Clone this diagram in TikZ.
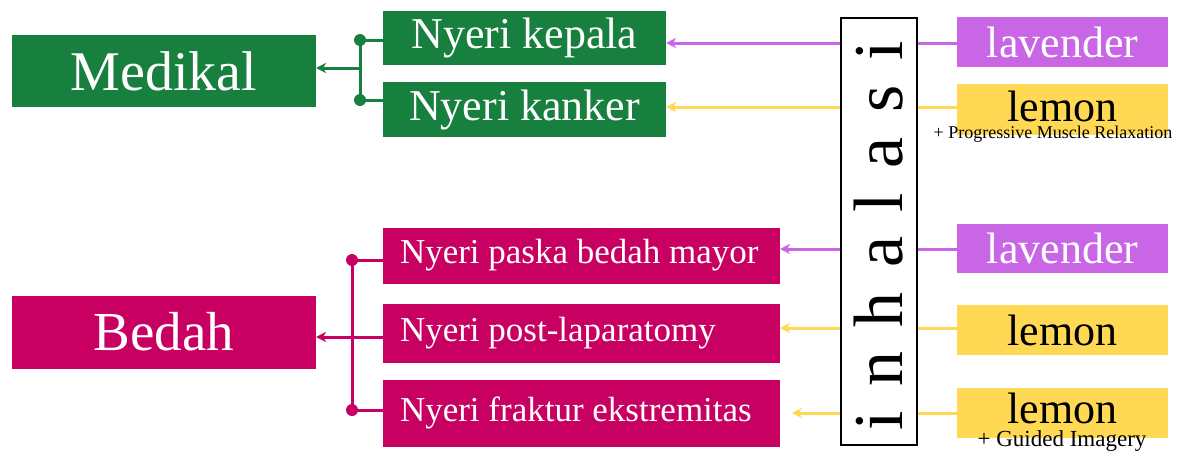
\documentclass[tikz,border=0pt]{standalone}
\usepackage{fontspec}
\setmainfont{Liberation Serif}
\usetikzlibrary{arrows.meta}
\definecolor{cgreen}{RGB}{24,128,62}
\definecolor{cmag}{RGB}{200,0,98}
\definecolor{clav}{RGB}{200,102,230}
\definecolor{clem}{RGB}{255,217,84}
\newcommand{\fsz}[1]{\fontsize{#1}{#1}\selectfont}
\newcommand{\lft}[1]{\makebox[363pt][l]{#1}}
\tikzset{
  box/.style={inner sep=0pt, outer sep=0pt, font=\fsz{44}},
  gbox/.style={box, fill=cgreen, text=white},
  mbox/.style={box, fill=cmag, text=white},
  lavbox/.style={box, fill=clav, text=white, minimum width=211pt, minimum height=49pt},
  lembox/.style={box, fill=clem, text=black, minimum width=211pt, minimum height=50pt},
  leftbox/.style={mbox, font=\fsz{35}, minimum width=397pt, minimum height=#1},
  lemtext/.style={inner sep=0pt, font=\fsz{44}, text=black},
  gline/.style={draw=cgreen, line width=3pt},
  mline/.style={draw=cmag, line width=3pt},
  lavline/.style={draw=clav, line width=3pt},
  lemline/.style={draw=clem, line width=3pt},
  tip/.style={-{Stealth[length=10pt,width=10pt,inset=3pt]}}
}
\begin{document}
\begin{tikzpicture}[x=1pt,y=-1pt]
\useasboundingbox (0,0) rectangle (1178,453);
% left category boxes
\node[gbox, minimum width=304pt, minimum height=72pt, font=\fsz{56}] (med) at (164,71) {Medikal};
\node[mbox, minimum width=304pt, minimum height=73pt, font=\fsz{55}] (bed) at (164,332) {Bedah};
% pain boxes
\node[gbox, minimum width=283pt, minimum height=54pt] (kep) at (524.5,38) {Nyeri kepala};
\node[gbox, minimum width=283pt, minimum height=55pt] (kan) at (524.5,109.5) {Nyeri kanker};
\node[leftbox=56pt] (pas) at (581.5,255.5) {\lft{Nyeri paska bedah mayor}};
\node[leftbox=59pt] (pos) at (581.5,333) {\lft{Nyeri post-laparatomy}};
\node[leftbox=67pt] (fra) at (581.5,413) {\lft{Nyeri fraktur ekstremitas}};
% inhalasi
\node[draw=black, line width=2.5pt, minimum width=76pt, minimum height=427pt, inner sep=0pt] (inh) at (879,231.5) {};
\node[rotate=90, inner sep=0pt, font=\fsz{70}] (inht) at (879,236)
  {i\hspace{0.35em}n\hspace{0.35em}h\hspace{0.35em}a\hspace{0.35em}l\hspace{0.35em}a\hspace{0.35em}s\hspace{0.35em}i};
% aromatherapy boxes
\node[lavbox, minimum height=50pt] (lav1) at (1062.5,42) {lavender};
\node[lembox, minimum height=51pt] (lem1) at (1062.5,109.5) {};
\node[lemtext] (lem1t) at (1062.5,106.5) {lemon};
\node[font=\fsz{18}, inner sep=0pt] (sub1) at (1053,134) {+ Progressive Muscle Relaxation};
\node[lavbox] (lav2) at (1062.5,248) {lavender};
\node[lembox] (lem2) at (1062.5,330) {lemon};
\node[lembox] (lem3) at (1062.5,413) {};
\node[lemtext] (lem3t) at (1062.5,408.5) {lemon};
\node[font=\fsz{23}, inner sep=0pt] (sub2) at (1062,441) {+ Guided Imagery};
% green connectors
\coordinate (g1) at (360,40);
\coordinate (g2) at (360,100);
\coordinate (gj) at (360,68);
\draw[gline] (kep.west |- g1) -- (g1) -- (g2) -- (kan.west |- g2);
\draw[gline, tip] (gj) -- (med.east |- gj);
\fill[cgreen] (g1) circle (6pt) (g2) circle (6pt);
% magenta connectors
\coordinate (m1) at (352,260);
\coordinate (m2) at (352,410);
\coordinate (mj) at (383,337);
\draw[mline] (pas.west |- m1) -- (m1) -- (m2) -- (fra.west |- m2);
\draw[mline, tip] (pos.west |- mj) -- (bed.east |- mj);
\fill[cmag] (m1) circle (6pt) (m2) circle (6pt);
% aroma lines
\draw[lavline] (lav1.west |- 0,43) -- (inh.east |- 0,43);
\draw[lavline, tip] (inh.west |- 0,43) -- (kep.east |- 0,43);
\draw[lemline] (lem1.west |- 0,107) -- (inh.east |- 0,107);
\draw[lemline, tip] (inh.west |- 0,107) -- (kan.east |- 0,107);
\draw[lavline] (lav2.west |- 0,249) -- (inh.east |- 0,249);
\draw[lavline, tip] (inh.west |- 0,249) -- (pas.east |- 0,249);
\draw[lemline] (lem2.west |- 0,328) -- (inh.east |- 0,328);
\draw[lemline, tip] (inh.west |- 0,328) -- (pos.east |- 0,328);
\draw[lemline] (lem3.west |- 0,413) -- (inh.east |- 0,413);
\draw[lemline, tip, shorten >=12pt] (inh.west |- 0,413) -- (fra.east |- 0,413);
\end{tikzpicture}
\end{document}
